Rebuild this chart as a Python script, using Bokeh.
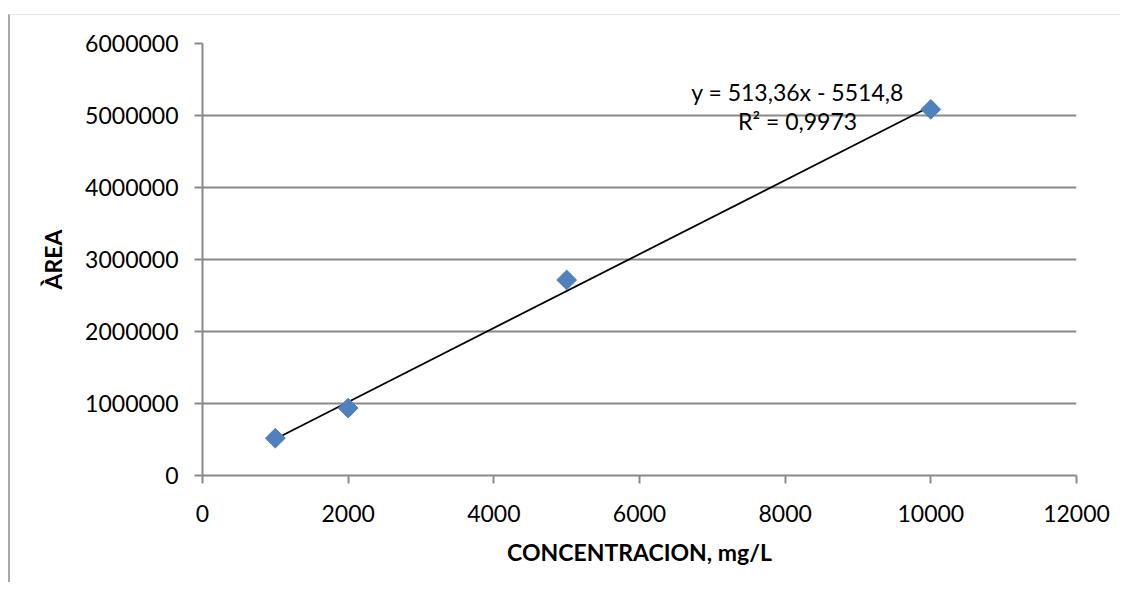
import numpy as np
from bokeh.plotting import figure
from bokeh.models import FixedTicker, BasicTickFormatter, Label, Range1d
from bokeh.embed import file_html
from bokeh.resources import INLINE

# data
concentracion = [1000, 2000, 5000, 10000]
area = [518000, 936000, 2716000, 5085000]
x_ticks = [0, 2000, 4000, 6000, 8000, 10000, 12000]
y_ticks = [0, 1000000, 2000000, 3000000, 4000000, 5000000, 6000000]
slope = 513.36
intercept = -5514.8
eq_text = "y = 513,36x - 5514,8"
r2_text = "R² = 0,9973"
x_title = "CONCENTRACION, mg/L"
y_title = "ÀREA"

FONT = "Lato"
GRID = "#898989"

p = figure(frame_width=874, frame_height=432,
           min_border_left=192, min_border_right=44,
           min_border_top=28, min_border_bottom=107,
           x_range=Range1d(0, 12000), y_range=Range1d(0, 6000000),
           output_backend="svg", toolbar_location=None,
           background_fill_color="white", border_fill_color="white")
p.styles = {"border-left": "2px solid #a8a8a8", "border-top": "1px solid #e6e6e6",
            "margin-top": "14px", "margin-left": "8px"}
p.outline_line_color = None

p.xgrid.visible = False
p.ygrid.grid_line_color = GRID
p.ygrid.grid_line_width = 2

for ax in (p.xaxis[0], p.yaxis[0]):
    ax.axis_line_color = GRID
    ax.axis_line_width = 2
    ax.major_tick_line_color = GRID
    ax.major_tick_line_width = 2
    ax.major_tick_in = 0
    ax.major_tick_out = 8
    ax.minor_tick_line_color = None
    ax.major_label_text_font = FONT
    ax.major_label_text_font_size = "23px"
    ax.major_label_text_color = "black"
    ax.axis_label_text_font = FONT
    ax.axis_label_text_font_size = "23px"
    ax.axis_label_text_font_style = "bold"
    ax.axis_label_text_color = "black"

p.xaxis.ticker = FixedTicker(ticks=x_ticks)
p.yaxis.ticker = FixedTicker(ticks=y_ticks)
p.yaxis.formatter = BasicTickFormatter(use_scientific=False)
p.xaxis.formatter = BasicTickFormatter(use_scientific=False)
p.xaxis.major_label_standoff = 21
p.yaxis.major_label_standoff = 16
p.xaxis.axis_label = x_title
p.yaxis.axis_label = y_title
p.xaxis.axis_label_standoff = 13
p.yaxis.axis_label_standoff = 15

# trendline
xf = np.array([min(concentracion), max(concentracion)], dtype=float)
yf = slope * xf + intercept
p.line(xf, yf, line_color="black", line_width=1.8)

p.scatter(concentracion, area, marker="square", angle=np.pi / 4, size=14,
          fill_color="#4F81BD", line_color="#4F81BD")

p.add_layout(Label(x=8170, y=5330000, text=eq_text, text_align="center",
                   text_baseline="middle", text_font=FONT, text_font_size="23px",
                   text_color="black"))
p.add_layout(Label(x=8170, y=4920000, text=r2_text, text_align="center",
                   text_baseline="middle", text_font=FONT, text_font_size="23px",
                   text_color="black"))

open("out.html", "w").write(file_html(p, INLINE))
